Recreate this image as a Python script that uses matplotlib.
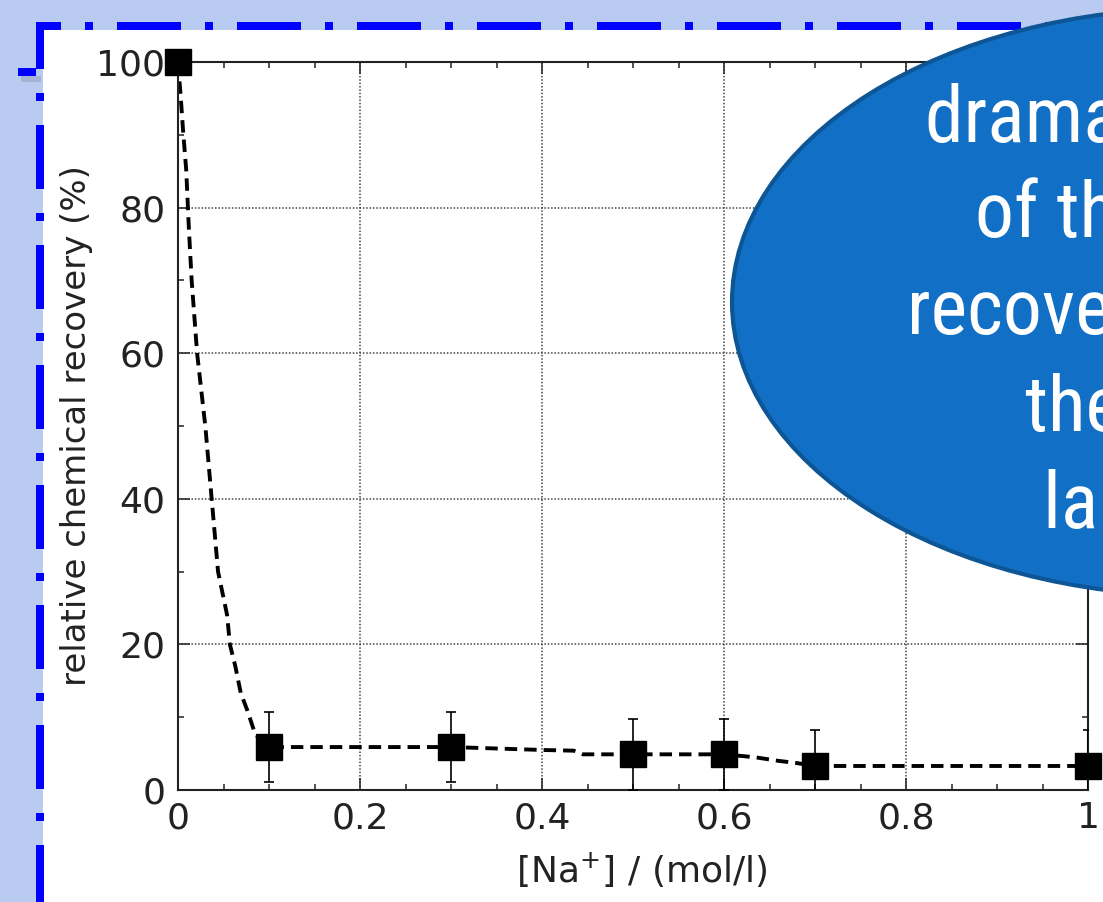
import matplotlib
matplotlib.use("Agg")
import matplotlib.pyplot as plt
from matplotlib import font_manager
from matplotlib.patches import Rectangle, Ellipse
from matplotlib.lines import Line2D
from matplotlib.patheffects import AbstractPathEffect
from matplotlib.transforms import Affine2D
from matplotlib.ticker import MultipleLocator, FuncFormatter

# measured data points: [Na+] (mol/l) vs relative chemical recovery (%)
conc = [0.0, 0.1, 0.3, 0.5, 0.6, 0.7, 1.0]
recovery = [100.0, 5.9, 5.9, 4.9, 4.9, 3.3, 3.3]
recovery_err = [0.0, 4.8, 4.8, 4.85, 4.85, 4.9, 4.9]

# dashed guide curve
fit_x = [0.0, 0.003, 0.0055, 0.009, 0.012, 0.015, 0.021, 0.03, 0.037, 0.044,
         0.054, 0.057, 0.063, 0.069, 0.076, 0.085, 0.1, 0.3, 0.4, 0.435,
         0.445, 0.6, 0.634, 0.66, 0.68, 0.7, 1.0]
fit_y = [100.0, 95.2, 90.7, 85.2, 77.0, 70.0, 60.0, 50.0, 40.0, 30.0,
         24.0, 20.0, 17.0, 13.3, 11.0, 7.6, 5.9, 5.9, 5.5, 5.4,
         4.9, 4.9, 4.5, 4.0, 3.7, 3.3, 3.3]

callout_lines = ["dramatic decrease", "of the chemical", "recovery with",
                 "the increase of", "large [Na+]"]

W, H = 1103, 902


def fx(x):
    return x / W


def fy(y):
    return 1 - y / H


class Squeeze(AbstractPathEffect):
    """Draw text narrower (no narrow font installed)."""

    def __init__(self, sx):
        super().__init__()
        self._sx = sx

    def draw_path(self, renderer, gc, tpath, affine, rgbFace=None):
        renderer.draw_path(gc, tpath, Affine2D().scale(self._sx, 1) + affine, rgbFace)


# look for a narrow sans; otherwise squeeze Liberation Sans
names = {f.name for f in font_manager.fontManager.ttflist}
narrow = next((n for n in ["Liberation Sans Narrow", "Arial Narrow", "Roboto Condensed"]
               if n in names), None)

fig = plt.figure(figsize=(W / 100, H / 100), dpi=100, facecolor="#b9cbf1")

# slide frame: white panel with blue dash-dot border
fig.add_artist(Rectangle((fx(43), 0), 1 - fx(43), fy(30), facecolor="white",
                         edgecolor="none", zorder=-3))
lw_px = 8
lw_pt = lw_px * 0.72
pattern = (8, 3, 1, 3)
fig.add_artist(Line2D([fx(40), fx(40)], [fy(22), -0.01], color="#0000ff", lw=lw_pt,
                      linestyle=(17 / lw_px, pattern), dash_capstyle="butt", zorder=-2))
fig.add_artist(Line2D([fx(36), 1.01], [fy(26), fy(26)], color="#0000ff", lw=lw_pt,
                      linestyle=(39 / lw_px, pattern), dash_capstyle="butt", zorder=-2))
# little stub with its shadow on the left edge
fig.add_artist(Rectangle((fx(21), fy(82)), fx(20), 6 / H, facecolor="#8a93a8",
                         edgecolor="none", alpha=0.4, zorder=-2))
fig.add_artist(Rectangle((fx(18), fy(76)), fx(18), 8 / H, facecolor="#0000ff",
                         edgecolor="none", zorder=-1))

ax = fig.add_axes([fx(178), fy(790), fx(1088) - fx(178), fy(62) - fy(790)])
ax.set_facecolor("white")

ax.plot(fit_x, fit_y, color="black", lw=2.8, linestyle=(0, (3.2, 1.8)), zorder=2)
ax.errorbar(conc, recovery, yerr=recovery_err, fmt="none", ecolor="black",
            elinewidth=1.2, capsize=3.8, capthick=1.2, zorder=3)
ax.plot(conc, recovery, "s", color="black", ms=18.5, clip_on=False, zorder=5)

ax.set_xlim(0, 1)
ax.set_ylim(0, 100)
ax.xaxis.set_major_locator(MultipleLocator(0.2))
ax.xaxis.set_minor_locator(MultipleLocator(0.05))
ax.yaxis.set_major_locator(MultipleLocator(20))
ax.yaxis.set_minor_locator(MultipleLocator(10))
ax.xaxis.set_major_formatter(FuncFormatter(lambda v, p: f"{v:g}"))
ax.yaxis.set_major_formatter(FuncFormatter(lambda v, p: f"{v:g}"))

ax.tick_params(which="both", direction="in", top=True, right=True,
               width=1.1, color="#222222")
ax.tick_params(which="major", length=8.6, labelsize=26, labelcolor="#222222")
ax.tick_params(which="minor", length=4.3)
ax.tick_params(axis="x", which="major", pad=8)
ax.tick_params(axis="y", which="major", pad=9)
for s in ax.spines.values():
    s.set_linewidth(1.5)
    s.set_color("#222222")

ax.grid(True, which="major", linestyle=(0, (1, 1.2)), linewidth=1.1, color="#444444")

ax.set_xlabel("[Na$^{+}$] / (mol/l)", fontsize=26, color="#222222")
ax.set_ylabel("relative chemical recovery (%)", fontsize=24.5, color="#222222")
ax.xaxis.set_label_coords(0.51, -0.083)
ax.yaxis.set_label_coords(-0.093, 0.5)

# blue callout ellipse on top of the chart
fig.add_artist(Ellipse((fx(1200), fy(302)), 2 * 468 / W, 2 * 294 / H,
                       facecolor="#1170c6", edgecolor="#0d5594", lw=3, zorder=5))
line_x = [925, 975, 907, 1025, 1043]
line_base = [142, 237, 334, 431, 528]
for s, x0, yb in zip(callout_lines, line_x, line_base):
    if narrow:
        kw = dict(family=[narrow, "Liberation Sans"])
    else:
        kw = dict(family=["Liberation Sans"], path_effects=[Squeeze(0.82)])
    fig.text(fx(x0), fy(yb), s, ha="left", va="baseline", color="white",
             fontsize=56, zorder=6, **kw)

fig.savefig("out.png", dpi=100, facecolor=fig.get_facecolor())
